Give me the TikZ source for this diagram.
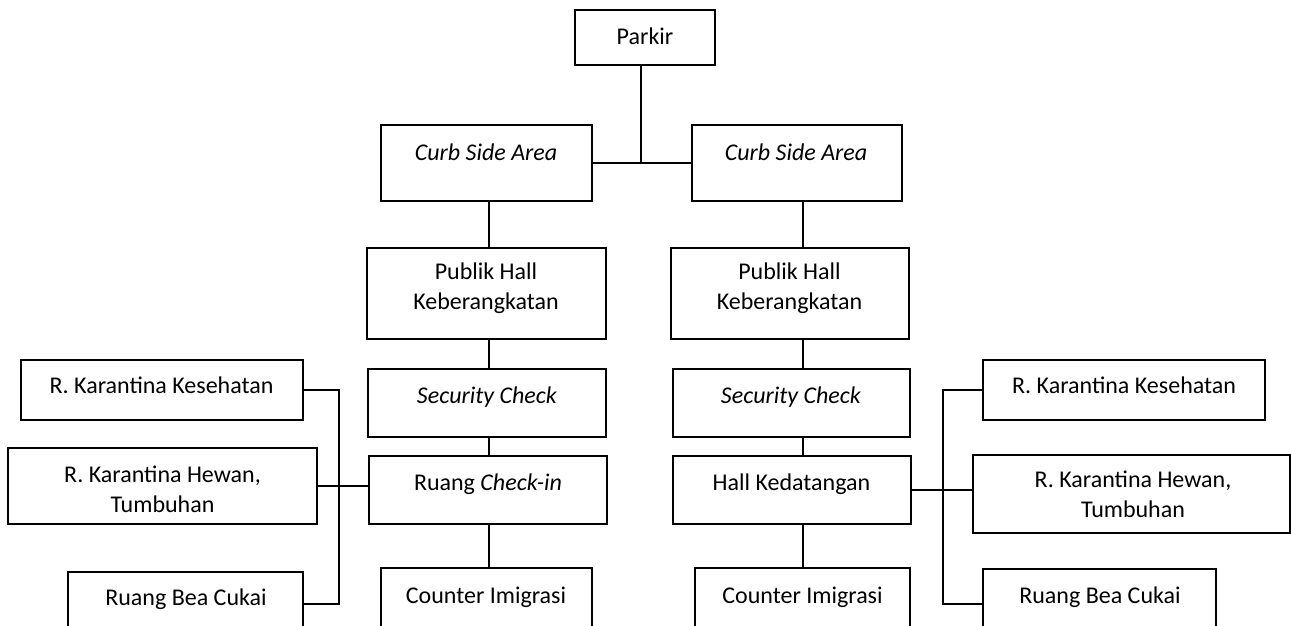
\documentclass[tikz,border=0pt]{standalone}
\usepackage{fontspec}
\setmainfont{Carlito}
\begin{document}
\begin{tikzpicture}[x=1pt,y=-1pt,
  mainbox/.style={draw, line width=2.2pt, inner sep=0pt},
  sidebox/.style={draw, line width=1.5pt, inner sep=0pt},
  txt/.style={inner sep=0pt, font=\fontsize{24}{30}\selectfont, align=center},
  link/.style={line width=1.9pt}]
\useasboundingbox (0,0) rectangle (1291,626);
\clip (0,0) rectangle (1291,626);

% central flow boxes
\node[mainbox, minimum width=140, minimum height=55] (pk)  at (645,37.5) {};
\node[mainbox, minimum width=211, minimum height=76] (csl) at (486.5,163) {};
\node[mainbox, minimum width=210, minimum height=76] (csr) at (797,163) {};
\node[mainbox, minimum width=239, minimum height=91] (phl) at (486.5,293.5) {};
\node[mainbox, minimum width=238, minimum height=91] (phr) at (790,293.5) {};
\node[mainbox, minimum width=238, minimum height=68] (scl) at (487,403) {};
\node[mainbox, minimum width=237, minimum height=68] (scr) at (791.5,403) {};
\node[mainbox, minimum width=238, minimum height=68] (ci)  at (488,490) {};
\node[mainbox, minimum width=238, minimum height=68] (hk)  at (792,490) {};
\node[mainbox, minimum width=211, minimum height=90] (cil) at (486.5,613) {};
\node[mainbox, minimum width=215, minimum height=90] (cir) at (802.5,613) {};

% side rooms
\node[sidebox, minimum width=282, minimum height=60] (kkl) at (162,390) {};
\node[sidebox, minimum width=309, minimum height=76] (khl) at (162.5,486) {};
\node[sidebox, minimum width=235, minimum height=64] (bcl) at (185.5,604) {};
\node[sidebox, minimum width=282, minimum height=60] (kkr) at (1124,390) {};
\node[sidebox, minimum width=317, minimum height=78] (khr) at (1131.5,494) {};
\node[sidebox, minimum width=233, minimum height=70] (bcr) at (1099.5,604) {};

% labels
\node[txt, anchor=base] (pk-t)  at (645,45) {Parkir};
\node[txt, anchor=base] (csl-t) at (486,160) {\textit{Curb Side Area}};
\node[txt, anchor=base] (csr-t) at (796,160) {\textit{Curb Side Area}};
\node[txt] (phl-t) at (486,288) {Publik Hall\\Keberangkatan};
\node[txt] (phr-t) at (789.5,288) {Publik Hall\\Keberangkatan};
\node[txt, anchor=base] (scl-t) at (487,403) {\textit{Security Check}};
\node[txt, anchor=base] (scr-t) at (791,403) {\textit{Security Check}};
\node[txt, anchor=base] (ci-t)  at (488,490) {Ruang \textit{Check-in}};
\node[txt, anchor=base] (hk-t)  at (791.5,490) {Hall Kedatangan};
\node[txt, anchor=base] (cil-t) at (486,603) {Counter Imigrasi};
\node[txt, anchor=base] (cir-t) at (802.5,603) {Counter Imigrasi};
\node[txt, anchor=base] (kkl-t) at (161.5,393) {R. Karantina Kesehatan};
\node[txt] (khl-t) at (162.5,489.5) {R. Karantina Hewan,\\Tumbuhan};
\node[txt, anchor=base] (bcl-t) at (186,605) {Ruang Bea Cukai};
\node[txt, anchor=base] (kkr-t) at (1124,393) {R. Karantina Kesehatan};
\node[txt] (khr-t) at (1133,494.5) {R. Karantina Hewan,\\Tumbuhan};
\node[txt, anchor=base] (bcr-t) at (1100,603) {Ruang Bea Cukai};

% connectors
\coordinate (hub)  at (641,163);
\coordinate (colL) at (489,0);
\coordinate (colR) at (803,0);
\coordinate (busL) at (339,0);
\coordinate (busR) at (943,0);

\draw[link] (hub |- pk.south) -- (hub);
\draw[link] (csl.east) -- (csr.west);

\draw[link] (csl.south -| colL) -- (phl.north -| colL);
\draw[link] (phl.south -| colL) -- (scl.north -| colL);
\draw[link] (scl.south -| colL) -- (ci.north -| colL);
\draw[link] (ci.south -| colL) -- (cil.north -| colL);

\draw[link] (csr.south -| colR) -- (phr.north -| colR);
\draw[link] (phr.south -| colR) -- (scr.north -| colR);
\draw[link] (scr.south -| colR) -- (hk.north -| colR);
\draw[link] (hk.south -| colR) -- (cir.north -| colR);

\draw[link] (kkl.east) -- (kkl.east -| busL) -- (bcl.east -| busL) -- (bcl.east);
\draw[link] (khl.east) -- (khl.east -| ci.west);

\draw[link] (kkr.west) -- (kkr.west -| busR) -- (bcr.west -| busR) -- (bcr.west);
\draw[link] (hk.east) -- (hk.east -| khr.west);
\end{tikzpicture}
\end{document}
